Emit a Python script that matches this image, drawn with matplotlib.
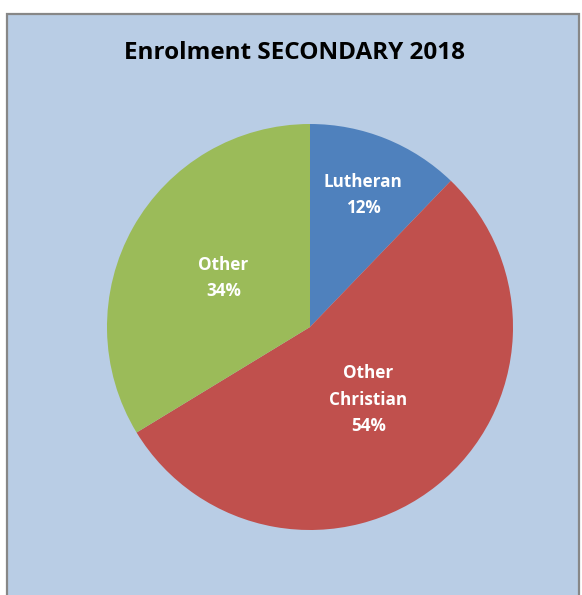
import numpy as np
import matplotlib
matplotlib.use("Agg")
import matplotlib.pyplot as plt
from matplotlib.patches import Rectangle

# data
LABELS = ["Lutheran", "Other\nChristian", "Other"]
SHARES = [12.2, 54.1, 33.7]
COLORS = ["#4F81BD", "#C0504D", "#9BBB59"]
LABEL_DIST = [0.70, 0.46, 0.49]

plt.rcParams["font.family"] = ["Open Sans", "DejaVu Sans"]

W, H = 582, 595
fig = plt.figure(figsize=(W / 100, H / 100), dpi=100)
fig.patch.set_facecolor("white")

# chart area box
fig.patches.append(Rectangle((7 / W, -0.05), 572 / W, (H - 14) / H + 0.05,
                             transform=fig.transFigure, facecolor="#B9CDE5",
                             edgecolor="#878787", linewidth=1.6, zorder=-5))

fig.text(294 / W, 1 - 53 / H, "Enrolment SECONDARY 2018", ha="center", va="center",
         fontsize=17.5, fontweight="bold", color="black")

ax = fig.add_axes([107 / W, 65 / H, 406 / W, 406 / H])
ax.set_facecolor("none")
wedges, _ = ax.pie(SHARES, colors=COLORS, startangle=90, counterclock=False,
                   radius=1, wedgeprops=dict(linewidth=0))
ax.set_xlim(-1, 1)
ax.set_ylim(-1, 1)
ax.set_aspect("equal")
ax.axis("off")

for w, lab, val, d in zip(wedges, LABELS, SHARES, LABEL_DIST):
    mid = np.deg2rad((w.theta1 + w.theta2) / 2)
    ax.text(d * np.cos(mid), d * np.sin(mid), f"{lab}\n{val:.0f}%",
            ha="center", va="center", color="white", fontsize=12.3,
            fontweight="bold", linespacing=1.6)

fig.savefig("out.png", dpi=100, facecolor="white")
